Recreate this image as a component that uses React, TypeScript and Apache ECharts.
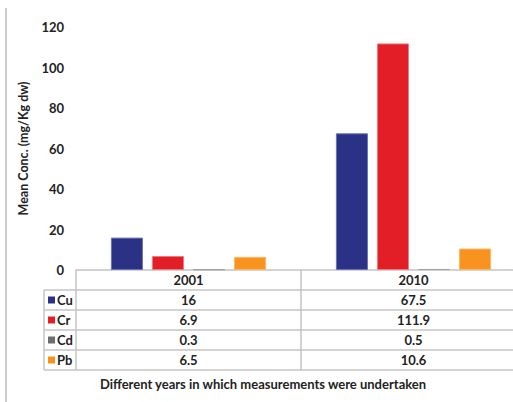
import React, { useEffect, useRef } from "react";
import * as echarts from "echarts";

const categories = ["2001", "2010"];
const metals = ["Cu", "Cr", "Cd", "Pb"];
const cuValues = [16, 67.5];
const crValues = [6.9, 111.9];
const cdValues = [0.3, 0.5];
const pbValues = [6.5, 10.6];
const yTicks = [0, 20, 40, 60, 80, 100, 120];

const seriesValues = [cuValues, crValues, cdValues, pbValues];
const colors = ["#2b3185", "#e21f27", "#6d6e71", "#f7931e"];
const borders = ["#6b71b5", "#f07a7f", "#a0a0a0", "#fbb866"];
const FONT = "Lato, 'Open Sans', sans-serif";
const GRID_LEFT = 76;
const GRID_TOP = 27;
const AXIS_Y = 270;
const ROW_H = 20;
const GRID_W = 450;
const KEY_LEFT = 44;
const VIEW_W = 540;
const LINE = "#c4c4c4";

export default function App() {
  const ref = useRef<HTMLDivElement>(null);
  useEffect(() => {
    document.body.style.overflow = "hidden";
    const chart = echarts.init(ref.current!, null, { renderer: "svg" });
    const option: any = {
      animation: false,
      backgroundColor: "#ffffff",
      textStyle: { fontFamily: FONT },
      grid: { left: GRID_LEFT, top: GRID_TOP, width: GRID_W, height: AXIS_Y - GRID_TOP, containLabel: false },
      xAxis: {
        type: "category",
        data: categories,
        axisLine: { show: true, lineStyle: { color: LINE, width: 1.5 } },
        axisTick: { show: true, length: ROW_H * 5, lineStyle: { color: LINE, width: 1.5 } },
        axisLabel: { margin: 3, color: "#222", fontWeight: "bold", fontSize: 13, fontFamily: FONT },
      },
      yAxis: {
        type: "value",
        min: yTicks[0],
        max: yTicks[yTicks.length - 1],
        interval: 20,
        axisLine: { show: false },
        axisTick: { show: false },
        splitLine: { show: false },
        axisLabel: { margin: 12, color: "#222", fontWeight: "bold", fontSize: 13, fontFamily: FONT },
        name: "Mean Conc. (mg/Kg dw)",
        nameLocation: "middle",
        nameGap: 36,
        nameTextStyle: { color: "#222", fontWeight: "bold", fontSize: 12.5, fontFamily: FONT },
      },
      series: metals.map((m, i) => ({
        name: m,
        type: "bar",
        data: seriesValues[i],
        barGap: "28%",
        barCategoryGap: "31%",
        itemStyle: { color: colors[i], borderColor: borders[i], borderWidth: 1 },
      })),
    };
    chart.setOption(option);

    const centers = categories.map((_, i) => chart.convertToPixel({ xAxisIndex: 0 }, i) as number);
    const graphics: any[] = [];
    graphics.push({ type: "line", shape: { x1: 6, y1: 8, x2: 6, y2: 402 }, style: { stroke: "#bdbdbd", lineWidth: 1.5 } });
    for (let r = 1; r <= metals.length + 1; r++) {
      const y = AXIS_Y + r * ROW_H;
      graphics.push({ type: "line", shape: { x1: KEY_LEFT, y1: y, x2: VIEW_W, y2: y }, style: { stroke: LINE, lineWidth: 1.5 } });
    }
    graphics.push({ type: "line", shape: { x1: KEY_LEFT, y1: AXIS_Y + ROW_H, x2: KEY_LEFT, y2: AXIS_Y + ROW_H * 5 }, style: { stroke: LINE, lineWidth: 1.5 } });
    metals.forEach((m, i) => {
      const cy = AXIS_Y + ROW_H * (i + 1) + ROW_H / 2;
      graphics.push({ type: "rect", shape: { x: 48, y: cy - 3.5, width: 7, height: 7 }, style: { fill: colors[i] } });
      graphics.push({
        type: "text",
        x: 57,
        y: cy,
        style: { text: m, fill: "#222", font: `bold 13px ${FONT}`, textAlign: "left", textVerticalAlign: "middle" },
      });
      seriesValues[i].forEach((v, c) => {
        graphics.push({
          type: "text",
          x: centers[c],
          y: cy,
          style: { text: String(v), fill: "#222", font: `bold 13px ${FONT}`, textAlign: "center", textVerticalAlign: "middle" },
        });
      });
    });
    graphics.push({
      type: "text",
      x: 263,
      y: 384,
      style: {
        text: "Different years in which measurements were undertaken",
        fill: "#222",
        font: `bold 13px ${FONT}`,
        textAlign: "center",
        textVerticalAlign: "middle",
      },
    });
    chart.setOption({ graphic: graphics });
    return () => chart.dispose();
  }, []);
  return <div ref={ref} style={{ position: "fixed", left: 0, top: 0, width: VIEW_W, height: 402 }} />;
}
